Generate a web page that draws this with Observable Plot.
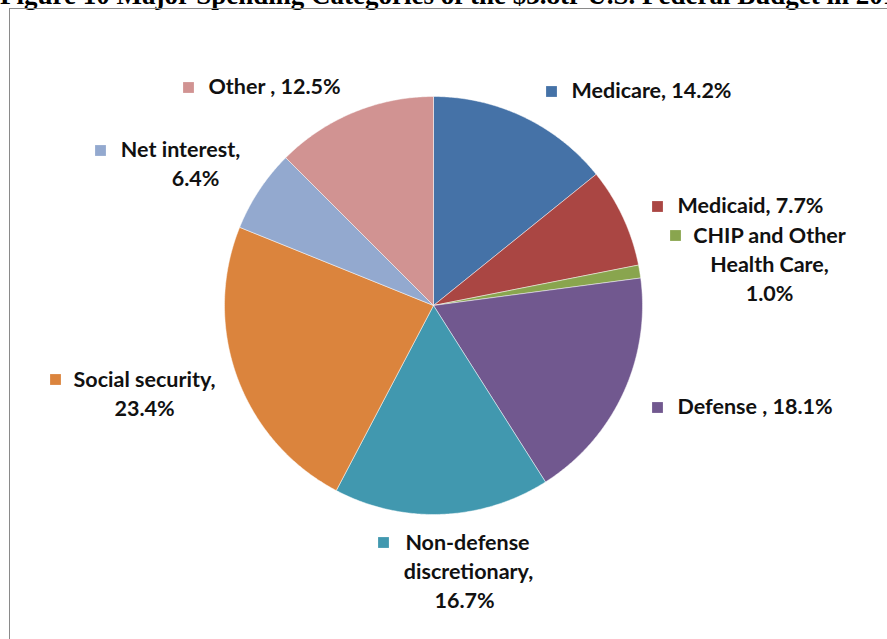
<!DOCTYPE html>
<html>
<head>
<meta charset="utf-8">
<script src="https://cdn.jsdelivr.net/npm/d3@7"></script>
<script src="https://cdn.jsdelivr.net/npm/@observablehq/plot@0.6"></script>
<style>
  html, body { margin: 0; padding: 0; background: #fff; overflow: hidden; width: 887px; height: 639px; }
  #title { position: absolute; left: 0; top: -18.5px; white-space: nowrap; font-family: "Liberation Serif", "Times New Roman", serif; font-weight: bold; font-size: 27px; line-height: 27px; color: #000; }
  #frame { position: absolute; left: 9px; top: 8px; width: 1000px; height: 1000px; border: 1px solid #8a8a8a; }
  #chart { position: absolute; left: 0; top: 0; }
</style>
</head>
<body>
<div id="title">Figure 10 Major Spending Categories of the $3.8tr U.S. Federal Budget in 2015</div>
<div id="frame"></div>
<div id="chart"></div>
<script>
// ---- data ----
const categories = ["Medicare", "Medicaid", "CHIP and Other Health Care", "Defense", "Non-defense discretionary", "Social security", "Net interest", "Other"];
const shares = [14.2, 7.7, 1.0, 18.1, 16.7, 23.4, 6.4, 12.5];
const colors = ["#4572A7", "#AA4643", "#89A54E", "#71588F", "#4198AF", "#DB843D", "#93A9CF", "#D19392"];
const labelLines = [
  ["Medicare, 14.2%"],
  ["Medicaid, 7.7%"],
  ["CHIP and Other", "Health Care,", "1.0%"],
  ["Defense , 18.1%"],
  ["Non-defense", "discretionary,", "16.7%"],
  ["Social security,", "23.4%"],
  ["Net interest,", "6.4%"],
  ["Other , 12.5%"]
];

// ---- layout (pixels in the 887x639 frame) ----
const W = 887, H = 639, CX = 433, CY = 305, R = 209;
const LINE = 28.7;
const FONT = 21.5;
// marker square position, text x per line, anchor, first line y
const labelLayout = [
  {sq: [551, 91],  tx: [571], anchor: "start", y0: 91},
  {sq: [657, 206], tx: [677], anchor: "start", y0: 206},
  {sq: [675, 235], tx: [769, 769, 769], anchor: "middle", y0: 236},
  {sq: [657, 407], tx: [677], anchor: "start", y0: 407},
  {sq: [383, 542], tx: [467, 468, 464], anchor: "middle", y0: 543},
  {sq: [55, 379],  tx: [144, 144], anchor: "middle", y0: 380},
  {sq: [100, 150], tx: [180, 195], anchor: "middle", y0: 150},
  {sq: [188, 87],  tx: [208], anchor: "start", y0: 87}
];

const rows = categories.map((c, i) => ({name: c, share: shares[i]}));
const arcs = d3.pie().sort(null).value(d => d.share)(rows);

// slice outlines (unit-radius polygons), angles clockwise from 12 o'clock
const slicePts = [];
arcs.forEach(a => {
  const n = Math.max(2, Math.ceil((a.endAngle - a.startAngle) / (Math.PI / 360)));
  slicePts.push({name: a.data.name, x: 0, y: 0});
  for (let k = 0; k <= n; k++) {
    const t = a.startAngle + (a.endAngle - a.startAngle) * k / n;
    slicePts.push({name: a.data.name, x: Math.sin(t), y: Math.cos(t)});
  }
  slicePts.push({name: a.data.name, x: 0, y: 0});
});

const px2x = p => (p - CX) / R;
const py2y = p => (CY - p) / R;

const squares = labelLayout.map((l, i) => ({name: categories[i], x: px2x(l.sq[0]), y: py2y(l.sq[1])}));
const texts = [];
labelLayout.forEach((l, i) => {
  labelLines[i].forEach((t, j) => {
    texts.push({text: t, anchor: l.anchor, x: px2x(l.tx[j]), y: py2y(l.y0 + j * LINE)});
  });
});

const textStyle = {x: "x", y: "y", text: "text", fontFamily: "Lato", fontWeight: "bold", fontSize: FONT, fill: "#111"};

const chart = Plot.plot({
  width: W,
  height: H,
  margin: 0,
  x: {domain: [px2x(0), px2x(W)], axis: null},
  y: {domain: [py2y(H), py2y(0)], axis: null},
  color: {domain: categories, range: colors},
  style: {background: "transparent", overflow: "visible"},
  marks: [
    Plot.line(slicePts, {x: "x", y: "y", z: "name", fill: "name", stroke: "#ffffff", strokeWidth: 0.8, strokeOpacity: 0.6, curve: "linear"}),
    Plot.dot(squares, {x: "x", y: "y", fill: "name", symbol: "square", r: 6.1, stroke: null}),
    Plot.text(texts.filter(d => d.anchor === "start"), {...textStyle, textAnchor: "start"}),
    Plot.text(texts.filter(d => d.anchor === "middle"), {...textStyle, textAnchor: "middle"})
  ]
});
document.getElementById("chart").appendChild(chart);
</script>
</body>
</html>
